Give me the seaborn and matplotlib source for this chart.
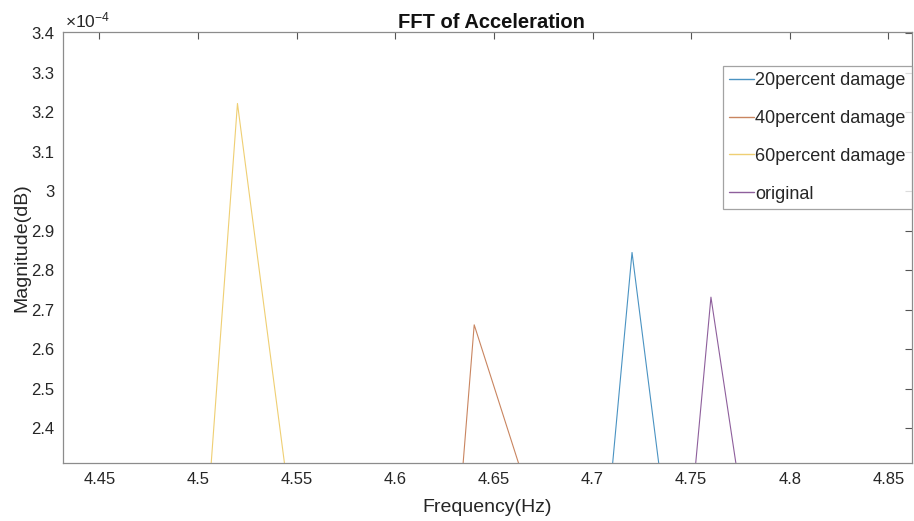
import numpy as np
import pandas as pd
import matplotlib
matplotlib.use("Agg")
import matplotlib.pyplot as plt
import seaborn as sns

# ---- data (magnitude in units of 1e-4) ----
series_names = ["20percent damage", "40percent damage", "60percent damage", "original"]
freq_20 = [4.68, 4.72, 4.76]
mag_20 = [0.674, 2.845, 1.269]
freq_40 = [4.60, 4.64, 4.68]
mag_40 = [0.170, 2.662, 2.039]
freq_60 = [4.48, 4.52, 4.56]
mag_60 = [0.488, 3.222, 1.694]
freq_orig = [4.72, 4.76, 4.80]
mag_orig = [0.557, 2.732, 1.403]

x_ticks = [4.45, 4.5, 4.55, 4.6, 4.65, 4.7, 4.75, 4.8, 4.85]
x_tick_labels = ["4.45", "4.5", "4.55", "4.6", "4.65", "4.7", "4.75", "4.8", "4.85"]
y_ticks = [2.4, 2.5, 2.6, 2.7, 2.8, 2.9, 3.0, 3.1, 3.2, 3.3, 3.4]
y_tick_labels = ["2.4", "2.5", "2.6", "2.7", "2.8", "2.9", "3", "3.1", "3.2", "3.3", "3.4"]

colors = ["#4a93c2", "#c98560", "#efcf73", "#8e5f9c"]

frames = []
for name, f, m in zip(series_names,
                      [freq_20, freq_40, freq_60, freq_orig],
                      [mag_20, mag_40, mag_60, mag_orig]):
    frames.append(pd.DataFrame({"Frequency": f, "Magnitude": m, "Series": name}))
df = pd.concat(frames, ignore_index=True)

sns.set_style("white")
plt.rcParams["font.family"] = ["Liberation Sans", "DejaVu Sans"]
plt.rcParams["mathtext.fontset"] = "custom"
plt.rcParams["mathtext.rm"] = "Liberation Sans"
plt.rcParams["mathtext.it"] = "Liberation Sans"

fig = plt.figure(figsize=(9.14, 5.21), dpi=100)
ax = fig.add_axes([0.069, 0.111, 0.929, 0.827])

sns.lineplot(data=df, x="Frequency", y="Magnitude", hue="Series",
             hue_order=series_names, palette=colors, linewidth=0.8,
             sort=False, estimator=None, ax=ax)

ax.set_xlim(4.4316, 4.862)
ax.set_ylim(2.312, 3.402)
ax.set_xticks(x_ticks)
ax.set_xticklabels(x_tick_labels)
ax.set_yticks(y_ticks)
ax.set_yticklabels(y_tick_labels)

axis_gray = "#8c8c8c"
text_col = "#262626"
for s in ax.spines.values():
    s.set_visible(True)
    s.set_color(axis_gray)
    s.set_linewidth(0.9)
ax.tick_params(direction="in", length=5, width=0.8, color="#555555",
               labelsize=12, labelcolor=text_col, top=True, right=True,
               pad=6)

ax.set_xlabel("Frequency(Hz)", fontsize=14, color=text_col, labelpad=9)
ax.set_ylabel("Magnitude(dB)", fontsize=14, color=text_col, labelpad=1)
ax.set_title("FFT of Acceleration", fontsize=14.5, fontweight="bold",
             color="#111111", pad=3, x=0.505)
ax.text(0.002, 1.004, r"$\times\mathregular{10^{-4}}$", transform=ax.transAxes,
        fontsize=12.5, color=text_col, ha="left", va="bottom")

leg = ax.legend(loc="upper right", bbox_to_anchor=(1.0, 0.922),
                frameon=True, fancybox=False, fontsize=13,
                handlelength=1.4, handletextpad=0.05, labelspacing=1.15,
                borderpad=0.35, borderaxespad=0)
leg.get_frame().set_edgecolor(axis_gray)
leg.get_frame().set_linewidth(0.9)
for t in leg.get_texts():
    t.set_color(text_col)
for line in leg.get_lines():
    line.set_linewidth(1.0)

fig.savefig("out.png", dpi=100, facecolor="white")
